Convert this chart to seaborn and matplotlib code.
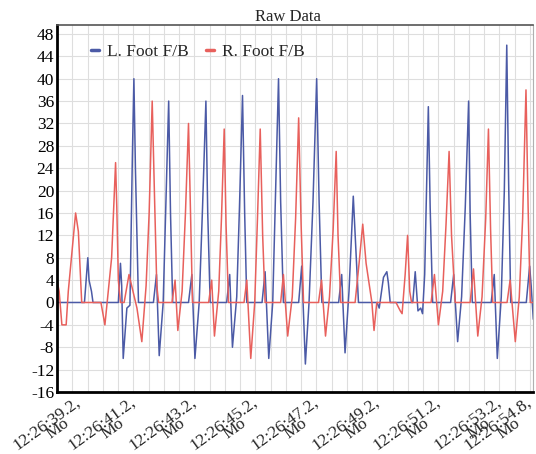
import numpy as np
import pandas as pd
import matplotlib
matplotlib.use("Agg")
import matplotlib.pyplot as plt
import matplotlib.transforms as mtransforms
import seaborn as sns

# time in seconds after 12:26:00, value of the F/B sensor
left_t = [39.20, 40.10, 40.21, 40.25, 40.33, 40.38, 41.21, 41.28, 41.32, 41.37,
          41.49, 41.59, 41.67, 41.72, 41.77, 41.87, 42.36, 42.46, 42.55, 42.68,
          42.77, 42.86, 42.92, 42.99, 43.51, 43.62, 43.72, 43.86, 43.97, 44.08,
          44.14, 44.22, 44.76, 44.86, 44.95, 45.09, 45.18, 45.28, 45.35, 45.42,
          45.92, 46.02, 46.14, 46.27, 46.36, 46.46, 46.53, 46.62, 47.12, 47.22,
          47.34, 47.46, 47.59, 47.71, 47.79, 47.88, 48.43, 48.53, 48.64, 48.77,
          48.91, 48.99, 49.08, 49.69, 49.76, 49.90, 50.01, 50.06, 50.12, 50.86,
          50.94, 51.03, 51.12, 51.18, 51.25, 51.31, 51.37, 51.43, 51.51, 52.10,
          52.20, 52.33, 52.46, 52.58, 52.69, 52.74, 52.81, 53.43, 53.53, 53.63,
          53.76, 53.86, 53.94, 54.00, 54.07, 54.58, 54.69, 54.74, 54.81]
left_v = [0, 0, 8, 4, 2, 0, 0, 7, 3, -10,
          -1, -0.5, 26, 40, 24, 0, 0, 5, -9.5, 0,
          18, 36, 16, 0, 0, 5, -10, 0, 17, 36,
          16, 0, 0, 5, -8, 1, 17, 37, 16, 0,
          0, 5.5, -10, 0, 19, 40, 18, 0, 0, 6.5,
          -11, 0, 18, 40, 18, 0, 0, 5, -9, 2,
          19, 10, 0, 0, -1, 4.5, 5.5, 3.5, 0, 0,
          5.5, -1.5, -1, -2, 5, 20, 35, 17, 0, 0,
          5, -7, 1, 17, 36, 16, 0, 0, 5, -10,
          1, 20, 46, 22, 0, 0, 6.5, 3, -3]

right_t = [39.20, 39.27, 39.36, 39.50, 39.57, 39.81, 39.90, 40.01, 40.64, 40.77,
           40.99, 41.12, 41.16, 41.21, 41.28, 41.40, 41.56, 41.69, 41.82, 41.98,
           42.12, 42.22, 42.32, 42.40, 42.47, 42.53, 42.97, 43.07, 43.16, 43.30,
           43.41, 43.51, 43.58, 43.64, 44.17, 44.27, 44.36, 44.50, 44.59, 44.68,
           44.74, 44.82, 45.33, 45.42, 45.55, 45.68, 45.77, 45.86, 45.94, 46.02,
           46.53, 46.62, 46.76, 46.91, 47.02, 47.12, 47.20, 47.28, 47.77, 47.87,
           48.00, 48.13, 48.25, 48.35, 48.41, 48.50, 48.97, 49.10, 49.22, 49.33,
           49.52, 49.59, 49.68, 50.31, 50.45, 50.51, 50.61, 50.69, 50.76, 50.82,
           51.46, 51.57, 51.70, 51.84, 51.95, 52.05, 52.13, 52.25, 52.74, 52.85,
           52.99, 53.13, 53.25, 53.34, 53.41, 53.48, 53.95, 54.05, 54.22, 54.35,
           54.46, 54.57, 54.64, 54.71, 54.81]
right_v = [4, 2, -4, -4, 2, 16, 12.7, 0, 0, -4,
           8, 25, 17, 4, 0, 0, 5, 2, -1, -7,
           3, 16, 36, 18, 3, 0, 0, 4, -5, 2,
           16, 32, 15, 0, 0, 4, -6, 2, 15, 31,
           14, 0, 0, 4, -10, 0, 15, 31, 12, 0,
           0, 5, -6, 1, 15, 33, 14, 0, 0, 4,
           -6, 1, 13, 27, 12, 0, 0, 7, 14, 7,
           0, -5, 0, 0, -1.5, -2, 5, 12, 2, 0,
           0, 5, -4, 2, 14, 27, 12, 0, 0, 6,
           -6, 1, 15, 31, 13, 0, 0, 4, -7, 1,
           15, 38, 17, 0, 0]

series_names = ["L. Foot F/B", "R. Foot F/B"]
series_colors = ["#4b5aa6", "#e8605c"]
x_ticks = [39.2, 41.2, 43.2, 45.2, 47.2, 49.2, 51.2, 53.2, 54.8]
y_ticks = list(range(-16, 49, 4))

df = pd.concat([
    pd.DataFrame({"t": left_t, "v": left_v, "series": series_names[0]}),
    pd.DataFrame({"t": right_t, "v": right_v, "series": series_names[1]}),
], ignore_index=True)

sns.set_theme(style="white")
plt.rcParams["font.family"] = ["Liberation Serif", "DejaVu Serif"]

fig = plt.figure(figsize=(5.36, 4.54), dpi=100)
ax = fig.add_axes([57 / 536, 1 - 392 / 454, 476 / 536, 367 / 454])

sns.lineplot(data=df, x="t", y="v", hue="series", hue_order=series_names,
             palette=series_colors, estimator=None, sort=False,
             linewidth=1.1, ax=ax)

ax.set_xlim(39.2, 54.8)
ax.set_ylim(-16, 49.6)
ax.set_yticks(y_ticks)
ax.set_yticklabels([str(v) for v in y_ticks], fontsize=12.5)
ax.set_xticks(x_ticks)
ax.set_xticklabels([])
ax.set_xticks(np.arange(39.2, 54.85, 0.5), minor=True)
ax.tick_params(axis="x", which="minor", length=0)
ax.tick_params(axis="both", which="major", direction="in", length=5, width=1.5,
               colors="black", pad=2)

ax.grid(True, which="both", axis="x", color="#dedede", linewidth=0.8)
ax.grid(True, which="major", axis="y", color="#dedede", linewidth=0.8)
ax.set_axisbelow(True)

ax.spines["left"].set_linewidth(2)
ax.spines["bottom"].set_linewidth(2)
ax.spines["left"].set_color("black")
ax.spines["bottom"].set_color("black")
ax.spines["top"].set_color("#555555")
ax.spines["top"].set_linewidth(1.2)
ax.spines["right"].set_color("#b0b0b0")
ax.spines["right"].set_linewidth(0.8)

ax.set_xlabel("")
ax.set_ylabel("")
ax.set_title("Raw Data", fontsize=12, pad=3, x=0.485)

leg = ax.legend(loc="upper left", bbox_to_anchor=(0.039, 0.99), ncol=2,
                frameon=False, fontsize=12.5, handlelength=0.45,
                handletextpad=0.45, columnspacing=1.0)
for line in leg.get_lines():
    line.set_linewidth(2.5)

# rotated time labels (time part, then "Mo" one line below it)
ang = 36
fs = 12.5
xtrans = ax.get_xaxis_transform()
def px(dx, dy):
    return mtransforms.ScaledTranslation(dx / 100, dy / 100, fig.dpi_scale_trans)

tops = []
for s in x_ticks:
    top = ax.text(s, 0, f"12:26:{s:.1f},", transform=xtrans + px(11, -2),
                  rotation=ang, rotation_mode="anchor", ha="right", va="top",
                  fontsize=fs)
    tops.append(top)

fig.canvas.draw()
renderer = fig.canvas.get_renderer()
ca, sa = np.cos(np.radians(ang)), np.sin(np.radians(ang))
for s, top in zip(x_ticks, tops):
    # keep the outer labels inside the picture, as the source chart does
    bb = top.get_window_extent(renderer)
    shift = 0
    if bb.x0 < 10:
        shift = 10 - bb.x0
    elif bb.x1 > 534:
        shift = 534 - bb.x1
    if shift:
        top.set_transform(xtrans + px(11 + shift, -2))
    w, h, d = renderer.get_text_width_height_descent(
        top.get_text(), top.get_fontproperties(), ismath=False)
    ax_x, ax_y = xtrans.transform((s, 0))
    anc_x, anc_y = ax_x + 11 + shift, ax_y - 2
    along = w / 2 - 6
    down = h * 1.4
    mo_x = anc_x - along * ca + down * sa
    mo_y = anc_y - along * sa - down * ca
    fig.text(mo_x, mo_y, "Mo", transform=mtransforms.IdentityTransform(),
             rotation=ang, rotation_mode="anchor", ha="center", va="center",
             fontsize=fs)

fig.savefig("out.png", dpi=100)
